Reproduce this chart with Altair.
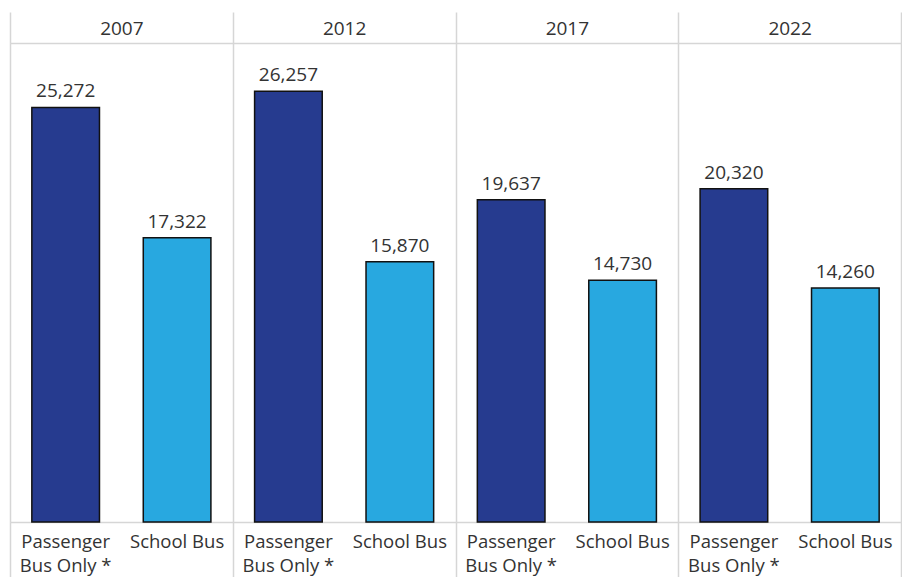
import altair as alt
import pandas as pd

years = ["2007", "2012", "2017", "2022"]
types = ["Passenger\nBus Only *", "School Bus"]
passenger = [25272, 26257, 19637, 20320]
school = [17322, 15870, 14730, 14260]

rows = []
for i, y in enumerate(years):
    rows.append({"year": y, "type": types[0], "value": passenger[i]})
    rows.append({"year": y, "type": types[1], "value": school[i]})
df = pd.DataFrame(rows)

FONT = "Open Sans"
GRID = "#d6d6d6"
TXT = "#333333"

yscale = alt.Scale(domain=[0, 29200], nice=False, zero=True)
xscale = alt.Scale(paddingInner=0, paddingOuter=0)

x_top = alt.X("year:N", sort=years, title=None, scale=xscale,
              axis=alt.Axis(orient="top", tickBand="extent", tickSize=31,
                            tickColor=GRID, tickWidth=1.5, domainColor=GRID,
                            domainWidth=1.5, labelAngle=0, labelFont=FONT,
                            labelFontSize=19, labelFontWeight="normal",
                            labelColor=TXT, labelBaseline="alphabetic",
                            labelPadding=-22,
                            grid=True, gridColor=GRID, gridWidth=1.5))
x_plain = alt.X("year:N", sort=years, title=None, scale=xscale, axis=None)
x_bot = alt.X("year:N", sort=years, title=None, scale=xscale,
              axis=alt.Axis(orient="bottom", tickBand="extent", tickSize=60,
                            tickColor=GRID, tickWidth=1.5, domainColor=GRID,
                            domainWidth=1.5, labels=False, grid=False))
xoff = alt.XOffset("type:N", sort=types,
                   scale=alt.Scale(paddingInner=0.393, paddingOuter=0.196))
y = alt.Y("value:Q", scale=yscale, axis=None)
color = alt.Color("type:N", sort=types,
                  scale=alt.Scale(domain=types, range=["#263b8f", "#28a8e0"]),
                  legend=None)

bars = alt.Chart(df).mark_bar(stroke="#111111", strokeWidth=1.5).encode(
    x=x_top, xOffset=xoff, y=y, color=color)

vals = alt.Chart(df).mark_text(baseline="alphabetic", dy=-10, font=FONT,
                               fontSize=19, color=TXT).encode(
    x=x_plain, xOffset=xoff, y=y, text=alt.Text("value:Q", format=","))

cats = alt.Chart(df).mark_text(baseline="alphabetic", dy=26, font=FONT,
                               fontSize=18.5, color=TXT, lineBreak="\n",
                               lineHeight=24).encode(
    x=x_bot, xOffset=xoff,
    y=alt.YDatum(0, scale=yscale, axis=None), text="type:N")

chart = alt.layer(bars, vals, cats).resolve_axis(x="independent").properties(
    width=891, height=479,
    autosize=alt.AutoSizeParams(type="none"),
    padding={"left": 2, "top": 35, "right": 1, "bottom": 55},
).configure_view(stroke=None).configure(background="white")

chart.save("out.html", embed_options={"renderer": "svg", "actions": False})
